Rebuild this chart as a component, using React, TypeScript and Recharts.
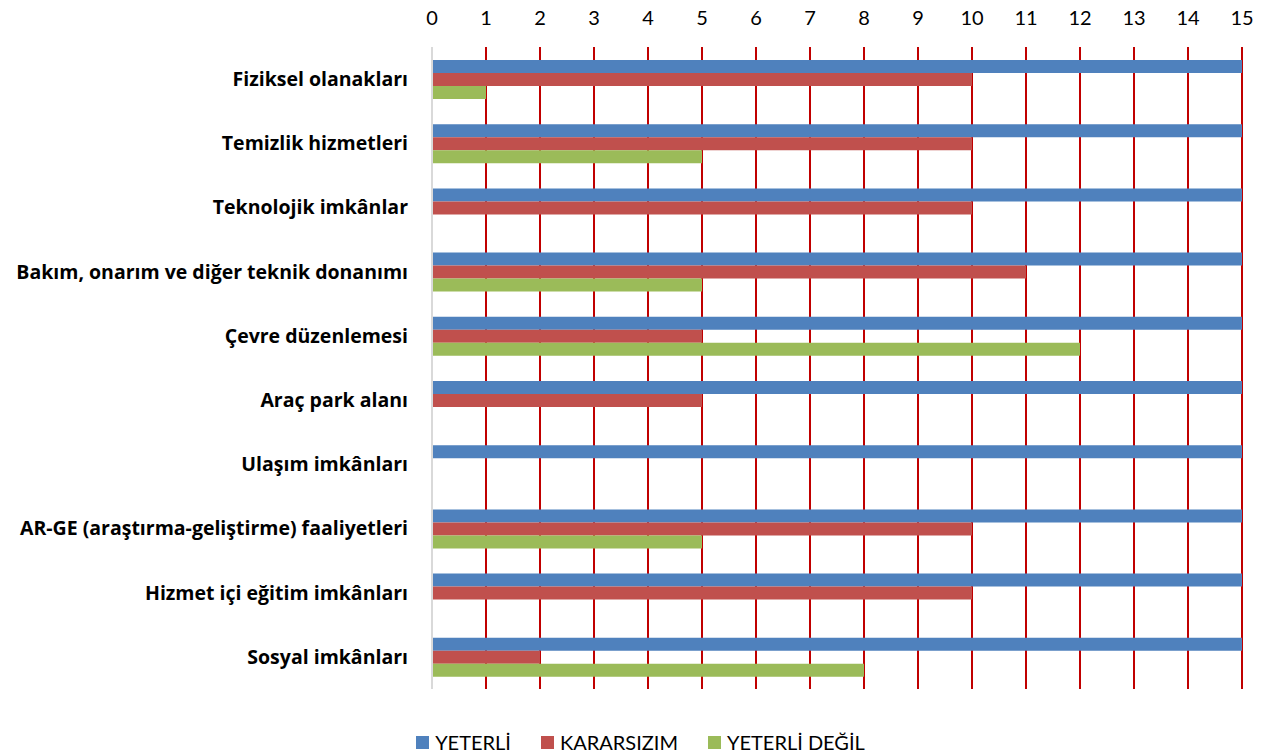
import React from 'react';
import { BarChart, Bar, XAxis, YAxis, CartesianGrid, Legend } from 'recharts';

const categories = [
  'Fiziksel olanakları',
  'Temizlik hizmetleri',
  'Teknolojik imkânlar',
  'Bakım, onarım ve diğer teknik donanımı',
  'Çevre düzenlemesi',
  'Araç park alanı',
  'Ulaşım imkânları',
  'AR-GE (araştırma-geliştirme) faaliyetleri',
  'Hizmet içi eğitim imkânları',
  'Sosyal imkânları',
];

const yeterli = [15, 15, 15, 15, 15, 15, 15, 15, 15, 15];
const kararsizim = [10, 10, 10, 11, 5, 5, 0, 10, 10, 2];
const yeterliDegil = [1, 5, 0, 5, 12, 0, 0, 5, 0, 8];

const xTicks = [0, 1, 2, 3, 4, 5, 6, 7, 8, 9, 10, 11, 12, 13, 14, 15];

const series = [
  { key: 'yeterli', name: 'YETERLİ', color: '#4F81BD' },
  { key: 'kararsizim', name: 'KARARSIZIM', color: '#C0504D' },
  { key: 'yeterliDegil', name: 'YETERLİ DEĞİL', color: '#9BBB59' },
];

const data = categories.map((name, i) => ({
  name,
  yeterli: yeterli[i],
  kararsizim: kararsizim[i],
  yeterliDegil: yeterliDegil[i],
}));

const FONT = 'Lato, "Open Sans", sans-serif';
const LABEL_FONT = '"Open Sans", Lato, sans-serif';

const LegendContent = () => (
  <div
    style={{
      height: 67,
      display: 'flex',
      alignItems: 'flex-end',
      justifyContent: 'center',
      paddingLeft: 8,
      boxSizing: 'border-box',
      paddingBottom: 2,
      fontFamily: FONT,
      fontSize: 20,
      color: '#000',
    }}
  >
    {series.map((s, i) => (
      <div key={s.key} style={{ display: 'flex', alignItems: 'center', marginLeft: i === 0 ? 0 : 30 }}>
        <div style={{ width: 13, height: 13, background: s.color, marginRight: 6 }} />
        <span>{s.name}</span>
      </div>
    ))}
  </div>
);

export default function App() {
  return (
    <div style={{ position: 'absolute', left: 0, top: 0, background: '#fff' }}>
      <BarChart
        width={1273}
        height={756}
        data={data}
        layout="vertical"
        margin={{ top: 0, right: 31, bottom: 0, left: 0 }}
        barSize={13}
        barGap={0}
      >
        <CartesianGrid horizontal={false} vertical={true} stroke="#C00000" strokeWidth={2} />
        <XAxis
          type="number"
          orientation="top"
          domain={[0, 15]}
          ticks={xTicks}
          interval={0}
          height={47}
          axisLine={false}
          tickLine={false}
          tickSize={0}
          tickMargin={22}
          tick={{ fill: '#000', fontSize: 20, fontFamily: FONT }}
        />
        <YAxis
          type="category"
          dataKey="name"
          width={432}
          interval={0}
          axisLine={{ stroke: '#D9D9D9', strokeWidth: 2 }}
          tickLine={false}
          tickSize={0}
          tickMargin={24}
          tick={{ fill: '#000', fontSize: 19.5, fontWeight: 'bold', fontFamily: LABEL_FONT }}
        />
        <Legend verticalAlign="bottom" content={<LegendContent />} wrapperStyle={{ bottom: 0, left: 0, width: 1273 }} />
        {series.map((s) => (
          <Bar key={s.key} dataKey={s.key} name={s.name} fill={s.color} isAnimationActive={false} />
        ))}
      </BarChart>
    </div>
  );
}
